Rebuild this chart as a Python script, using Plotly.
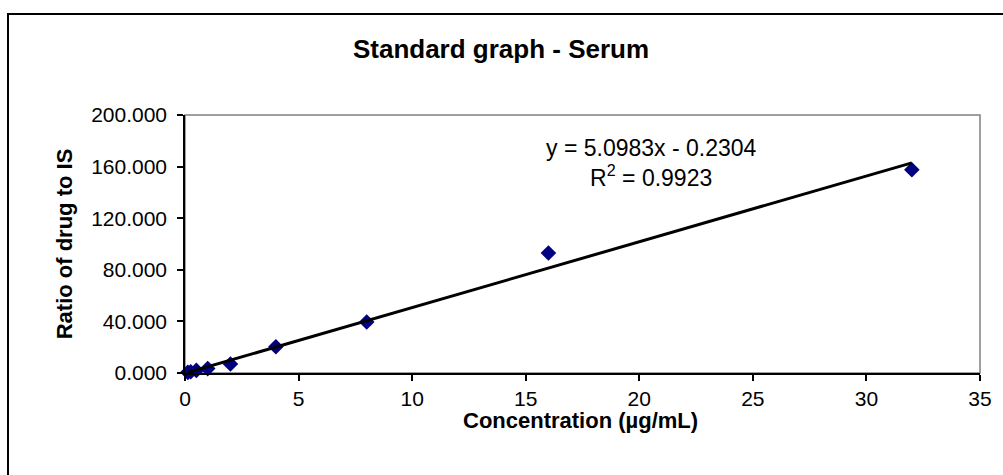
import plotly.graph_objects as go

# Data
concentration = [0.125, 0.25, 0.5, 1, 2, 4, 8, 16, 32]
ratio = [0.5, 1.0, 2.0, 3.4, 7.0, 20.4, 39.5, 93.0, 157.5]
slope = 5.0983
intercept = -0.2304
r_squared = 0.9923
x_ticks = [0, 5, 10, 15, 20, 25, 30, 35]
y_ticks = [0, 40, 80, 120, 160, 200]
x_title = "Concentration (µg/mL)"
y_title = "Ratio of drug to IS"
chart_title = "Standard graph - Serum"

FONT = "Liberation Sans, Arial, sans-serif"

fit_x = [min(concentration), max(concentration)]
fit_y = [slope * v + intercept for v in fit_x]

fig = go.Figure()
fig.add_trace(go.Scatter(
    x=concentration, y=ratio, mode="markers",
    marker=dict(symbol="diamond", size=12, color="#000080", line=dict(width=0)),
    showlegend=False, cliponaxis=False,
))
fig.add_trace(go.Scatter(
    x=fit_x, y=fit_y, mode="lines",
    line=dict(color="black", width=3),
    showlegend=False,
))

fig.update_layout(
    width=1003, height=475,
    margin=dict(l=185, r=23, t=115, b=102),
    paper_bgcolor="white", plot_bgcolor="white",
    font=dict(family=FONT, color="black"),
    title=dict(text=f"<b>{chart_title}</b>", x=(501 - 185) / 795, xref="paper",
               xanchor="center", y=1 - 49 / 475, yanchor="middle",
               font=dict(size=26, family=FONT, color="black")),
    xaxis=dict(
        range=[0, 35], tickvals=x_ticks, ticktext=[str(v) for v in x_ticks],
        showgrid=False, zeroline=False, showline=True, linecolor="black", linewidth=1.5,
        ticks="outside", ticklen=6, tickwidth=1.5, tickcolor="black",
        tickfont=dict(size=21, family=FONT, color="black"),
    ),
    yaxis=dict(
        range=[0, 200], tickvals=y_ticks, ticktext=[f"{v:.3f}" for v in y_ticks],
        showgrid=False, zeroline=False, showline=True, linecolor="black", linewidth=1.5,
        ticks="outside", ticklen=6, tickwidth=1.5, tickcolor="black",
        tickfont=dict(size=21, family=FONT, color="black"),
        ticklabelstandoff=6,
        title=dict(text=f"<b>{y_title}</b>", standoff=12,
                   font=dict(size=22, family=FONT, color="black")),
    ),
    shapes=[
        dict(type="rect", xref="paper", yref="paper", x0=0, x1=1, y0=0, y1=1,
             line=dict(color="#808080", width=1.5), layer="below"),
        dict(type="rect", xref="paper", yref="paper",
             x0=(8 - 185) / 795, x1=(1015 - 185) / 795,
             y0=(373 - 490) / 258, y1=(373 - 14) / 258,
             line=dict(color="black", width=2), layer="below"),
    ],
    annotations=[
        dict(text=f"y = {slope}x - {abs(intercept)}<br>R<sup>2</sup> = {r_squared}",
             xref="paper", yref="paper", x=(651 - 185) / 795, y=(373 - 163) / 258,
             xanchor="center", yanchor="middle", showarrow=False, align="center",
             font=dict(size=23, family=FONT, color="black")),
        dict(text=f"<b>{x_title}</b>",
             xref="paper", yref="paper", x=(580 - 185) / 795, y=(373 - 421) / 258,
             xanchor="center", yanchor="middle", showarrow=False,
             font=dict(size=22, family=FONT, color="black")),
    ],
)

fig.write_html("out.html")
